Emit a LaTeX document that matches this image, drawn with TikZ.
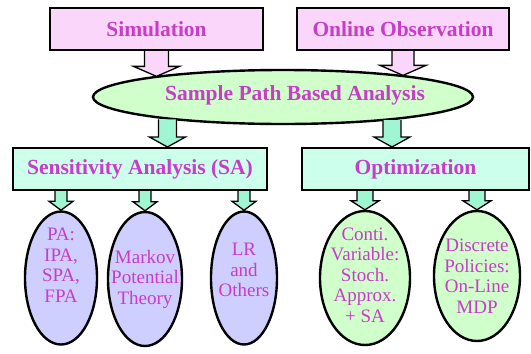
\documentclass[tikz,border=0pt]{standalone}
\usepackage{fontspec}
\setmainfont{Liberation Serif}
\usetikzlibrary{shapes.geometric,calc}
\definecolor{pinkfill}{RGB}{250,214,250}
\definecolor{mintfill}{RGB}{204,255,236}
\definecolor{aquafill}{RGB}{160,245,210}
\definecolor{greenfill}{RGB}{208,255,204}
\definecolor{lavfill}{RGB}{206,206,255}
\definecolor{labelpink}{RGB}{200,60,200}
\tikzset{
	titlebox/.style={draw, line width=2pt, minimum height=42pt, inner sep=0pt, text=labelpink, font=\fontsize{21.5}{24}\selectfont\bfseries},
	oval/.style={ellipse, draw, line width=2.4pt, inner sep=0pt},
	ovaltext/.style={text=labelpink, align=center, font=\fontsize{19}{20.5}\selectfont},
	arrowline/.style={draw, line width=1.3pt, line join=miter}
}
\newcommand{\fatarrow}[6]{%
	\filldraw[arrowline, fill=#1] let \p1=(#2), \p2=(#3) in
		(\x1-#4pt,\y1) -- (\x1-#4pt,\y2+#6pt) -- (\x1-#5pt,\y2+#6pt) -- (\x1,\y2)
		-- (\x1+#5pt,\y2+#6pt) -- (\x1+#4pt,\y2+#6pt) -- (\x1+#4pt,\y1);
}
\begin{document}
\begin{tikzpicture}[x=1pt, y=-1pt]
	\useasboundingbox (0,0) rectangle (531,354);
	\node[titlebox, fill=pinkfill, minimum width=213pt] (sim) at (156.5,29) {Simulation};
	\node[titlebox, fill=pinkfill, minimum width=212pt] (obs) at (403,29) {Online Observation};
	\node[oval, fill=greenfill, minimum width=380pt, minimum height=54pt] (spa) at (283,97) {};
	\node[text=labelpink, font=\fontsize{21.5}{24}\selectfont\bfseries] (spatxt) at (295,95) {Sample Path Based Analysis};
	\node[titlebox, fill=mintfill, minimum width=254pt] (sa) at (140,169) {Sensitivity Analysis (SA)};
	\node[titlebox, fill=mintfill, minimum width=227pt] (opt) at (415.5,169) {Optimization};
	\node[oval, fill=lavfill, minimum width=72pt, minimum height=133pt] (pa) at (61,278) {};
	\node[oval, fill=lavfill, minimum width=74pt, minimum height=134pt] (mk) at (145,279) {};
	\node[oval, fill=lavfill, minimum width=66pt, minimum height=133pt] (lr) at (244,278) {};
	\node[oval, fill=greenfill, minimum width=90pt, minimum height=134pt] (conti) at (365,278) {};
	\node[oval, fill=greenfill, minimum width=86pt, minimum height=130pt] (disc) at (477,276) {};
	\node[ovaltext] (patxt) at ([yshift=13pt]pa.center) {PA:\\IPA,\\SPA,\\FPA};
	\node[ovaltext] (mktxt) at (mk.center) {Markov\\Potential\\Theory};
	\node[ovaltext] (lrtxt) at ([yshift=8pt]lr.center) {LR\\and\\Others};
	\node[ovaltext] (contitxt) at ([yshift=3pt]conti.center) {Conti.\\Variable:\\Stoch.\\Approx.\\+ SA};
	\node[ovaltext] (disctxt) at (disc.center) {Discrete\\Policies:\\On-Line\\MDP};
	\fatarrow{pinkfill}{sim.south}{spa.171}{12}{23}{10}
	\fatarrow{pinkfill}{obs.south}{spa.10}{11}{23}{10}
	\fatarrow{aquafill}{spa.191}{sa.north}{9}{18}{10}
	\fatarrow{aquafill}{spa.-12}{opt.north}{9}{18}{10}
	\fatarrow{aquafill}{sa.south -| pa.north}{pa.north}{6}{12}{9}
	\fatarrow{aquafill}{sa.south -| mk.north}{mk.north}{6}{12}{9}
	\fatarrow{aquafill}{sa.south -| lr.north}{lr.north}{6}{12}{9}
	\fatarrow{aquafill}{opt.south -| conti.north}{conti.north}{8}{14}{9}
	\fatarrow{aquafill}{opt.south -| disc.north}{disc.north}{8}{14}{9}
\end{tikzpicture}
\end{document}
